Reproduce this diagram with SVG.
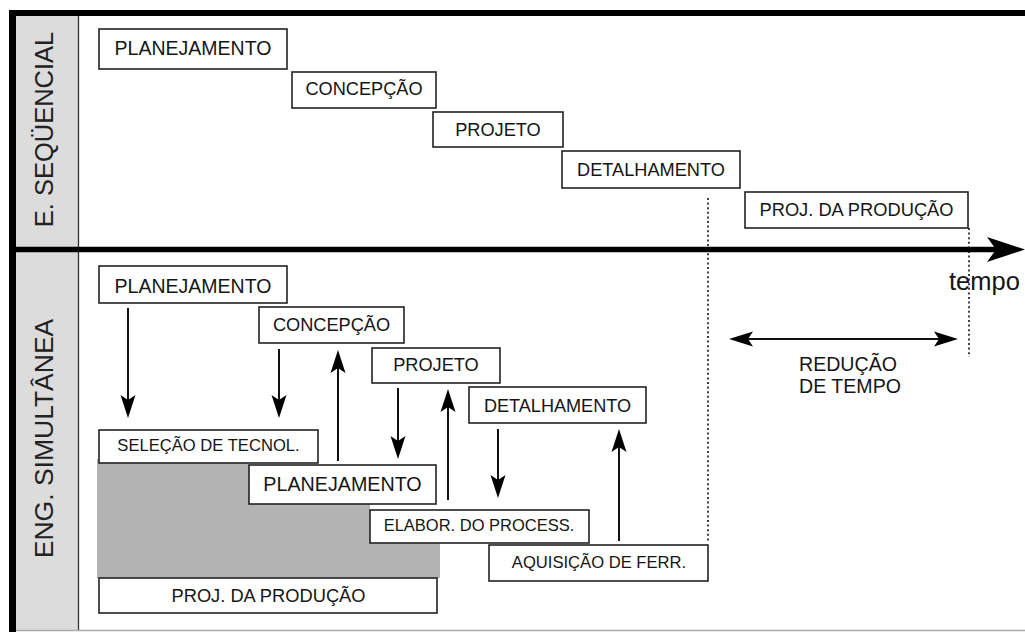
<svg xmlns="http://www.w3.org/2000/svg" width="1025" height="632" viewBox="0 0 1025 632">
  <style>
    .box { fill: #ffffff; stroke: #222222; stroke-width: 1.6; }
    .t { font-family: "Liberation Sans", Arial, sans-serif; fill: #151515; text-anchor: middle; }
    .side { font-family: "Liberation Sans", Arial, sans-serif; fill: #222222; text-anchor: middle; }
    .arr { stroke: #111111; stroke-width: 2; fill: none; }
    .dot { stroke: #111111; stroke-width: 1.6; stroke-dasharray: 2 2.6; fill: none; }
  </style>
  <defs>
    <marker id="ah" markerUnits="userSpaceOnUse" viewBox="-16 -8 25 16" markerWidth="25" markerHeight="16" refX="0" refY="0" orient="auto">
      <path d="M8,0 L-15,-7.5 L-10,0 L-15,7.5 Z" fill="#000000"/>
    </marker>
    <marker id="ah2" markerUnits="userSpaceOnUse" viewBox="-18 -8 27 16" markerWidth="27" markerHeight="16" refX="0" refY="0" orient="auto-start-reverse">
      <path d="M8,0 L-16,-7.5 L-11,0 L-16,7.5 Z" fill="#000000"/>
    </marker>
  </defs>

  <rect x="0" y="0" width="1025" height="632" fill="#ffffff"/>

  <!-- frame -->
  <g id="frame">
    <rect x="16" y="16" width="62" height="614" fill="#dcdcdc"/>
    <line x1="78.5" y1="16" x2="78.5" y2="630" stroke="#333333" stroke-width="1.3"/>
    <line x1="16" y1="630.5" x2="1025" y2="630.5" stroke="#aaaaaa" stroke-width="1.5"/>
    <line x1="9" y1="13" x2="1025" y2="13" stroke="#000000" stroke-width="6"/>
    <line x1="12.5" y1="10" x2="12.5" y2="632" stroke="#000000" stroke-width="7"/>
  </g>

  <!-- gray production area -->
  <polygon id="producao-area" points="97,459 249,459 249,504 370,504 370,543 440,543 440,578 97,578" fill="#b3b3b3"/>

  <!-- side labels -->
  <g id="label-sequencial">
    <text class="side" font-size="25.5" transform="translate(53,129.5) rotate(-90)">E. SEQÜENCIAL</text>
  </g>
  <g id="label-simultanea">
    <text class="side" font-size="26.5" transform="translate(53,438.5) rotate(-90)">ENG. SIMULTÂNEA</text>
  </g>

  <!-- connectors -->
  <g id="connectors">
    <line class="dot" x1="708" y1="198" x2="708" y2="542"/>
    <line class="dot" x1="969" y1="228" x2="969" y2="357"/>
    <line x1="9" y1="249.5" x2="997" y2="249.5" stroke="#000000" stroke-width="5.5"/>
    <polygon points="1025,249.5 987,237 996,249.5 987,262" fill="#000000"/>
    <line class="arr" x1="128" y1="308" x2="128" y2="410" marker-end="url(#ah)"/>
    <line class="arr" x1="279" y1="349" x2="279" y2="410" marker-end="url(#ah)"/>
    <line class="arr" x1="338" y1="461" x2="338" y2="358" marker-end="url(#ah)"/>
    <line class="arr" x1="398" y1="388" x2="398" y2="451" marker-end="url(#ah)"/>
    <line class="arr" x1="448" y1="500" x2="448" y2="397" marker-end="url(#ah)"/>
    <line class="arr" x1="498" y1="429" x2="498" y2="490" marker-end="url(#ah)"/>
    <line class="arr" x1="619" y1="541" x2="619" y2="437" marker-end="url(#ah)"/>
    <line class="arr" x1="737" y1="339" x2="950" y2="339" marker-start="url(#ah2)" marker-end="url(#ah2)"/>
  </g>

  <!-- sequential nodes -->
  <g id="seq-planejamento">
    <rect class="box" x="99" y="29" width="188" height="40"/>
    <text class="t" x="193" y="55" font-size="19.5">PLANEJAMENTO</text>
  </g>
  <g id="seq-concepcao">
    <rect class="box" x="292" y="72" width="144" height="36"/>
    <text class="t" x="364" y="95" font-size="18.2">CONCEPÇÃO</text>
  </g>
  <g id="seq-projeto">
    <rect class="box" x="433" y="112" width="130" height="35"/>
    <text class="t" x="498" y="135.5" font-size="18.2">PROJETO</text>
  </g>
  <g id="seq-detalhamento">
    <rect class="box" x="562" y="151" width="178" height="37"/>
    <text class="t" x="651" y="175.5" font-size="18.2">DETALHAMENTO</text>
  </g>
  <g id="seq-proj-producao">
    <rect class="box" x="745" y="192" width="223" height="36"/>
    <text class="t" x="856.5" y="216" font-size="18.3">PROJ. DA PRODUÇÃO</text>
  </g>

  <!-- time label -->
  <g id="label-tempo">
    <text x="949" y="290" font-family="Liberation Sans, Arial, sans-serif" font-size="25.5" fill="#151515">tempo</text>
  </g>

  <!-- time reduction label -->
  <g id="label-reducao">
    <text x="799" y="371" font-family="Liberation Sans, Arial, sans-serif" font-size="19.6" fill="#151515">REDUÇÃO</text>
    <text x="799" y="393" font-family="Liberation Sans, Arial, sans-serif" font-size="19.6" fill="#151515">DE TEMPO</text>
  </g>

  <!-- simultaneous nodes -->
  <g id="sim-planejamento">
    <rect class="box" x="99" y="266" width="188" height="37"/>
    <text class="t" x="193" y="292.5" font-size="19.5">PLANEJAMENTO</text>
  </g>
  <g id="sim-concepcao">
    <rect class="box" x="259" y="307" width="145" height="36"/>
    <text class="t" x="331.5" y="331" font-size="18.2">CONCEPÇÃO</text>
  </g>
  <g id="sim-projeto">
    <rect class="box" x="372" y="348" width="128" height="35"/>
    <text class="t" x="436" y="371" font-size="18.2">PROJETO</text>
  </g>
  <g id="sim-detalhamento">
    <rect class="box" x="469" y="387" width="177" height="36"/>
    <text class="t" x="557.5" y="411.5" font-size="18.1">DETALHAMENTO</text>
  </g>
  <g id="sim-selecao">
    <rect class="box" x="99" y="430" width="219" height="33"/>
    <text class="t" x="208.5" y="450.7" font-size="16.6">SELEÇÃO DE TECNOL.</text>
  </g>
  <g id="sim-planejamento-2">
    <rect class="box" x="249" y="465" width="187" height="39"/>
    <text class="t" x="342.5" y="490.7" font-size="19.7">PLANEJAMENTO</text>
  </g>
  <g id="sim-elabor">
    <rect class="box" x="370" y="510" width="219" height="33"/>
    <text class="t" x="479" y="530.7" font-size="16.5">ELABOR. DO PROCESS.</text>
  </g>
  <g id="sim-aquisicao">
    <rect class="box" x="489" y="545" width="219" height="36"/>
    <text class="t" x="599" y="568" font-size="16.6">AQUISIÇÃO DE FERR.</text>
  </g>
  <g id="sim-proj-producao">
    <rect class="box" x="99" y="578" width="338" height="35"/>
    <text class="t" x="268.5" y="602" font-size="18.3">PROJ. DA PRODUÇÃO</text>
  </g>
</svg>
